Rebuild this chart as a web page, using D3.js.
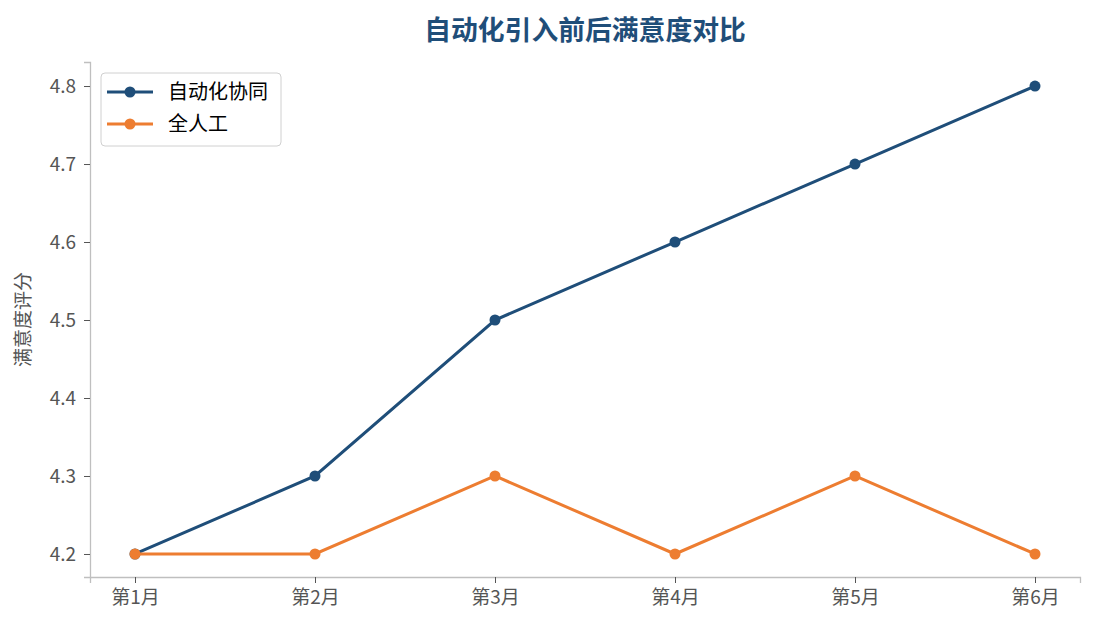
<!DOCTYPE html>
<html>
<head>
<meta charset="utf-8">
<script src="https://cdn.jsdelivr.net/npm/d3@7"></script>
<style>
  body { margin: 0; background: #fff; }
  svg { font-family: "Noto Sans CJK SC", "Noto Sans", sans-serif; }
</style>
</head>
<body>
<svg id="chart" width="1095" height="630"></svg>
<script>
const months = ["第1月", "第2月", "第3月", "第4月", "第5月", "第6月"];
const autoScores = [4.2, 4.3, 4.5, 4.6, 4.7, 4.8];
const manualScores = [4.2, 4.2, 4.3, 4.2, 4.3, 4.2];
const yTicks = [4.2, 4.3, 4.4, 4.5, 4.6, 4.7, 4.8];

const series = [
  { name: "自动化协同", values: autoScores, color: "#1f4e79" },
  { name: "全人工", values: manualScores, color: "#ed7d31" },
];

const svg = d3.select("#chart");
const plotLeft = 90, plotRight = 1080, plotTop = 62, plotBottom = 577;

const x = d3.scaleLinear().domain([-0.25, months.length - 0.75]).range([plotLeft, plotRight]);
const y = d3.scaleLinear().domain([4.1705, 4.8308]).range([plotBottom, plotTop]);

// title
svg.append("text")
  .attr("x", (plotLeft + plotRight) / 2)
  .attr("y", 40)
  .attr("text-anchor", "middle")
  .attr("font-size", 26.8)
  .attr("font-weight", "bold")
  .attr("fill", "#1f4e79")
  .text("自动化引入前后满意度对比");

// axes
const xAxis = svg.append("g")
  .attr("transform", `translate(0,${plotBottom})`)
  .call(d3.axisBottom(x).tickValues(d3.range(months.length)).tickFormat(i => months[i]).tickSize(6).tickPadding(8));
const yAxis = svg.append("g")
  .attr("transform", `translate(${plotLeft},0)`)
  .call(d3.axisLeft(y).tickValues(yTicks).tickFormat(d3.format(".1f")).tickSize(6).tickPadding(8));

[xAxis, yAxis].forEach(g => {
  g.select(".domain").attr("stroke", "#bfbfbf").attr("stroke-width", 1.3);
  g.selectAll(".tick line").attr("stroke", "#555");
  g.selectAll(".tick text").attr("fill", "#555").attr("font-size", 19)
    .attr("font-family", "'Noto Sans CJK SC', sans-serif");
});

// y label
svg.append("text")
  .attr("transform", `translate(30,${(plotTop + plotBottom) / 2}) rotate(-90)`)
  .attr("text-anchor", "middle")
  .attr("font-size", 19)
  .attr("fill", "#555")
  .text("满意度评分");

// lines
const line = d3.line().x((d, i) => x(i)).y(d => y(d));
series.forEach(s => {
  svg.append("path")
    .datum(s.values)
    .attr("fill", "none")
    .attr("stroke", s.color)
    .attr("stroke-width", 3)
    .attr("d", line);
  svg.selectAll(null)
    .data(s.values)
    .join("circle")
    .attr("cx", (d, i) => x(i))
    .attr("cy", d => y(d))
    .attr("r", 5.5)
    .attr("fill", s.color);
});

// legend
const legend = svg.append("g").attr("transform", "translate(101,73)");
legend.append("rect")
  .attr("width", 180).attr("height", 73).attr("rx", 4)
  .attr("fill", "#fff").attr("stroke", "#d0d0d0").attr("stroke-width", 1);
series.forEach((s, i) => {
  const g = legend.append("g").attr("transform", `translate(0,${19 + i * 32})`);
  g.append("line").attr("x1", 6).attr("x2", 52).attr("stroke", s.color).attr("stroke-width", 3);
  g.append("circle").attr("cx", 29).attr("r", 5.5).attr("fill", s.color);
  g.append("text").attr("x", 67).attr("dy", "0.35em").attr("font-size", 20).attr("fill", "#000").text(s.name);
});
</script>
</body>
</html>
